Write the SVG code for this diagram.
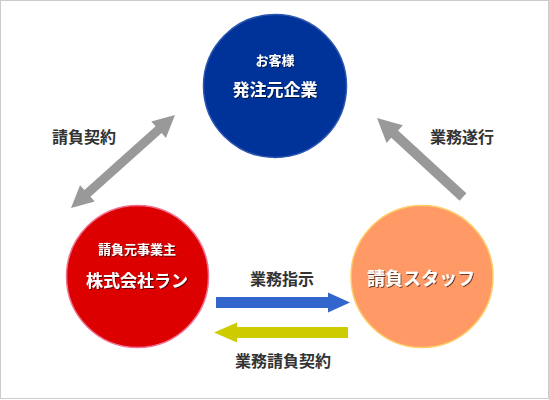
<svg xmlns="http://www.w3.org/2000/svg" width="549" height="400" viewBox="0 0 549 400">
<defs>
<style>
.lbl{font-family:"Noto Sans CJK JP","Liberation Sans",sans-serif;font-weight:bold;fill:#333333;text-anchor:middle;dominant-baseline:central}
.wt{font-family:"Noto Sans CJK JP","Liberation Sans",sans-serif;font-weight:bold;fill:#ffffff;text-anchor:middle;dominant-baseline:central;filter:url(#sh)}
.gray{fill:#999999}
</style>
<filter id="sh" x="-20%" y="-50%" width="140%" height="200%">
<feDropShadow dx="1" dy="1" stdDeviation="0.6" flood-color="#000000" flood-opacity="0.6"/>
</filter>
</defs>
<rect x="0.5" y="0.5" width="548" height="398" fill="#ffffff" stroke="#cccccc" stroke-width="1"/>
<g id="connectors">
<polygon class="gray" transform="translate(71,208) rotate(-41.8)" points="0,0 22,-11 22,-4.5 117.5,-4.5 117.5,-11 139.5,0 117.5,11 117.5,4.5 22,4.5 22,11"/>
<polygon class="gray" transform="translate(463,197) rotate(-137.4)" points="0,-5 92.8,-5 92.8,-12 116.8,0 92.8,12 92.8,5 0,5"/>
<polygon fill="#3366cc" points="216,297 328,297 328,292.5 350,302.5 328,312.5 328,308 216,308"/>
<polygon fill="#cccc00" points="348,327 237,327 237,322.5 214,332.5 237,342.5 237,338 348,338"/>
<text class="lbl" x="84" y="136" font-size="16">請負契約</text>
<text class="lbl" x="462" y="136" font-size="16">業務遂行</text>
<text class="lbl" x="282" y="278" font-size="16">業務指示</text>
<text class="lbl" x="283" y="360" font-size="16">業務請負契約</text>
</g>
<g id="client">
<circle cx="275" cy="86" r="71.5" fill="#003399" stroke="#2a55b0" stroke-width="1.5"/>
<text class="wt" x="275" y="59" font-size="13">お客様</text>
<text class="wt" x="275" y="88" font-size="17">発注元企業</text>
</g>
<g id="contractor">
<circle cx="137.5" cy="276.5" r="71" fill="#dd0000" stroke="#f07090" stroke-width="1.5"/>
<text class="wt" x="137" y="248" font-size="13">請負元事業主</text>
<text class="wt" x="137" y="279" font-size="17">株式会社ラン</text>
</g>
<g id="staff">
<circle cx="422" cy="276.5" r="71" fill="#ff9966" stroke="#ffcc66" stroke-width="1.5"/>
<text class="wt" x="421" y="277" font-size="18">請負スタッフ</text>
</g>
</svg>
